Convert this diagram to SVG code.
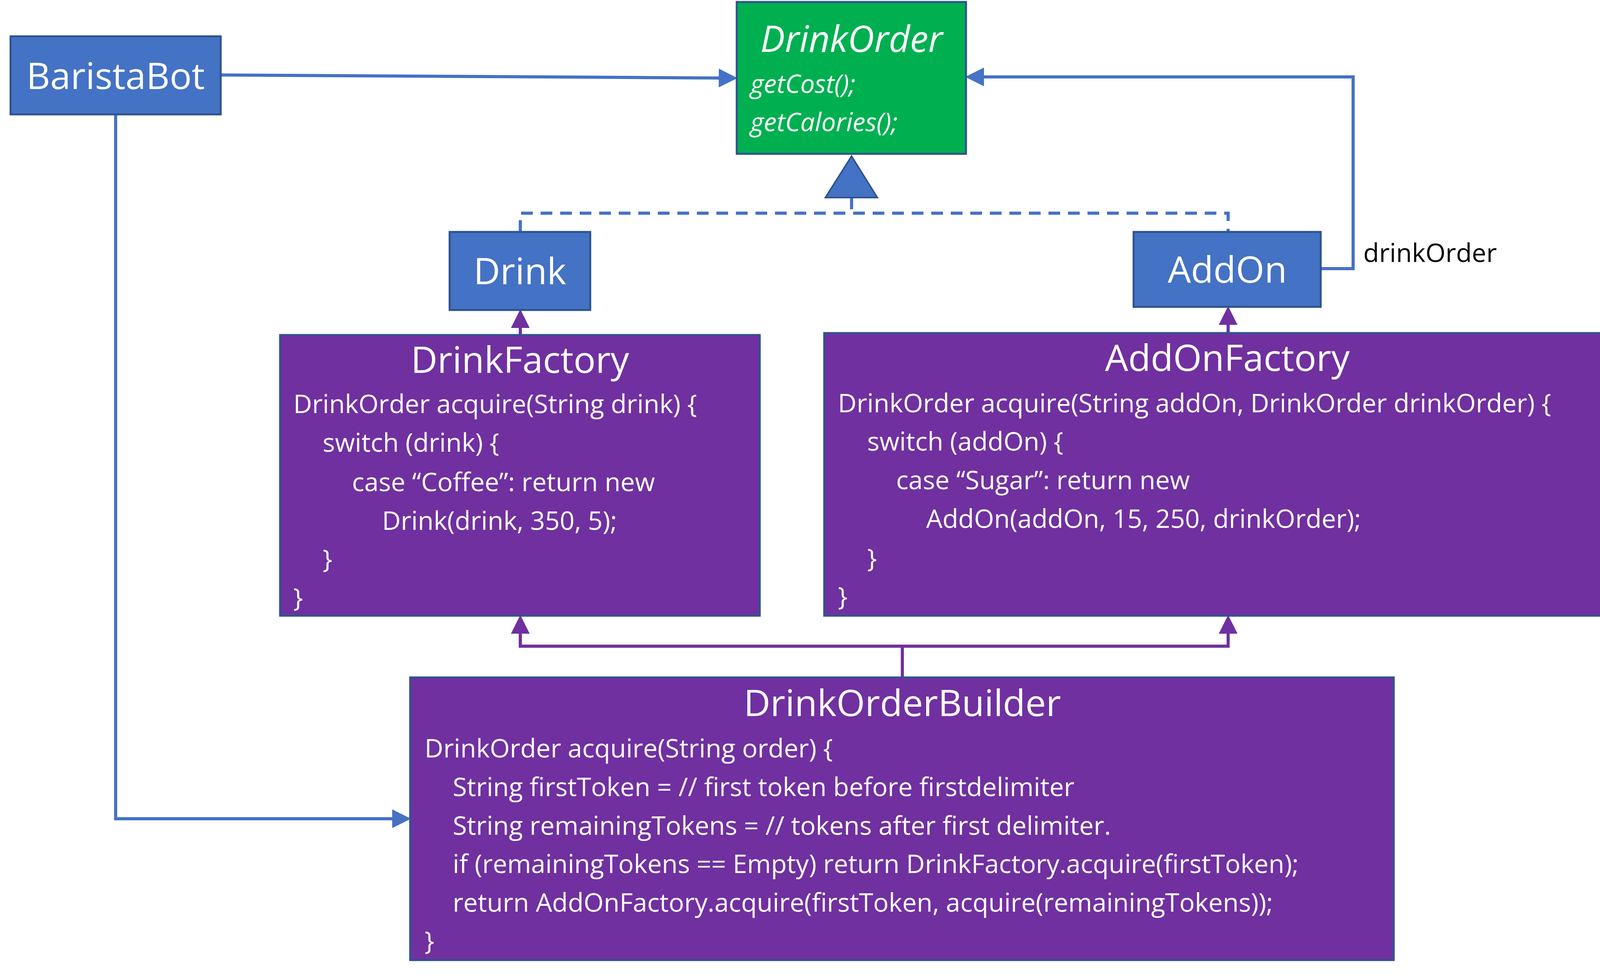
<svg xmlns="http://www.w3.org/2000/svg" width="4178" height="2510" viewBox="0 0 4178 2510">
<style>
.b{fill:#4472C4;stroke:#2F528F;stroke-width:5}
.p{fill:#7030A0;stroke:#2F528F;stroke-width:5}
.t{font-family:"Open Sans","Liberation Sans",sans-serif;fill:#fff}
.h{font-size:94px;text-anchor:middle}
.c{font-size:66px}
.bl{fill:none;stroke:#4472C4;stroke-width:8}
.pl{fill:none;stroke:#7030A0;stroke-width:8}
</style>
<defs>
<marker id="ab" markerWidth="6" markerHeight="6" refX="5" refY="3" orient="auto"><path d="M0,0L6,3L0,6z" fill="#4472C4"/></marker>
<marker id="ap" markerWidth="6" markerHeight="6" refX="5" refY="3" orient="auto"><path d="M0,0L6,3L0,6z" fill="#7030A0"/></marker>
</defs>
<rect width="4178" height="2510" fill="#fff"/>
<g id="connectors">
<path class="bl" d="M565,192L1880,200" marker-end="url(#ab)"/>
<path class="bl" d="M296,293V2097H1044" marker-end="url(#ab)"/>
<path class="bl" d="M3381,688H3464V197H2479" marker-end="url(#ab)"/>
<path class="bl" stroke-dasharray="30,20" d="M2180,506V546M1332,594V546H3144V594"/>
<path d="M2180,400L2246,506H2113z" fill="#4472C4" stroke="#2F528F" stroke-width="4"/>
<path class="pl" d="M1332,858V800" marker-end="url(#ap)"/>
<path class="pl" d="M3144,853V792" marker-end="url(#ap)"/>
<path class="pl" d="M2310,1735V1655M1332,1583V1655H3144V1583" marker-end="url(#ap)"/>
<path class="pl" d="M1332,1655V1583" marker-end="url(#ap)"/>
</g>
<g id="BaristaBot"><rect class="b" x="27" y="93" width="538" height="200"/><text class="t h" x="296" y="228">BaristaBot</text></g>
<g id="DrinkOrder"><rect x="1886" y="5" width="587" height="389" fill="#00B050" stroke="#2F528F" stroke-width="5"/>
<text class="t h" font-style="italic" x="2180" y="133">DrinkOrder</text>
<text class="t c" font-style="italic" x="1921" y="238">getCost();</text>
<text class="t c" font-style="italic" x="1921" y="336">getCalories();</text></g>
<g id="Drink"><rect class="b" x="1151" y="594" width="360" height="200"/><text class="t h" x="1331" y="728">Drink</text></g>
<g id="AddOn"><rect class="b" x="2902" y="594" width="479" height="192"/><text class="t h" x="3142" y="724">AddOn</text></g>
<text id="drinkOrderLabel" x="3490" y="671" font-family="Open Sans,Liberation Sans,sans-serif" font-size="66" fill="#000">drinkOrder</text>
<g id="DrinkFactory"><rect class="p" x="717" y="858" width="1228" height="719"/>
<text class="t h" x="1331" y="955">DrinkFactory</text>
<text class="t c" x="751" y="1058">DrinkOrder acquire(String drink) {</text>
<text class="t c" x="826" y="1157">switch (drink) {</text>
<text class="t c" x="901" y="1258">case “Coffee”: return new</text>
<text class="t c" x="978" y="1357">Drink(drink, 350, 5);</text>
<text class="t c" x="826" y="1455">}</text>
<text class="t c" x="751" y="1554">}</text></g>
<g id="AddOnFactory"><rect class="p" x="2110" y="853" width="2070" height="724"/>
<text class="t h" x="3142" y="950">AddOnFactory</text>
<text class="t c" x="2145" y="1056">DrinkOrder acquire(String addOn, DrinkOrder drinkOrder) {</text>
<text class="t c" x="2220" y="1154">switch (addOn) {</text>
<text class="t c" x="2294" y="1253">case “Sugar”: return new</text>
<text class="t c" x="2371" y="1352">AddOn(addOn, 15, 250, drinkOrder);</text>
<text class="t c" x="2220" y="1453">}</text>
<text class="t c" x="2145" y="1551">}</text></g>
<g id="DrinkOrderBuilder"><rect class="p" x="1050" y="1735" width="2518" height="724"/>
<text class="t h" x="2310" y="1834">DrinkOrderBuilder</text>
<text class="t c" x="1087" y="1940">DrinkOrder acquire(String order) {</text>
<text class="t c" x="1159" y="2039">String firstToken = // first token before firstdelimiter</text>
<text class="t c" x="1159" y="2138">String remainingTokens = // tokens after first delimiter.</text>
<text class="t c" x="1159" y="2236">if (remainingTokens == Empty) return DrinkFactory.acquire(firstToken);</text>
<text class="t c" x="1159" y="2335">return AddOnFactory.acquire(firstToken, acquire(remainingTokens));</text>
<text class="t c" x="1087" y="2433">}</text></g>
</svg>
